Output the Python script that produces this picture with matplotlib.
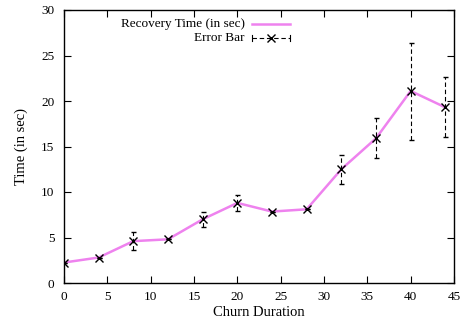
import matplotlib
matplotlib.use("Agg")
import matplotlib.pyplot as plt
from matplotlib.lines import Line2D

# data
churn = [0, 4, 8, 12, 16, 20, 24, 28, 32, 36, 40, 44]
recovery = [2.25, 2.8, 4.6, 4.8, 7.0, 8.8, 7.85, 8.1, 12.5, 15.9, 21.1, 19.3]
err_low = [2.25, 2.8, 3.6, 4.8, 6.15, 7.9, 7.85, 8.1, 10.9, 13.7, 15.7, 16.0]
err_high = [2.25, 2.8, 5.55, 4.8, 7.8, 9.7, 7.85, 8.1, 14.1, 18.15, 26.4, 22.6]

plt.rcParams['font.family'] = ['Liberation Serif', 'DejaVu Serif']

fig = plt.figure(figsize=(4.61, 3.22), dpi=100)
ax = fig.add_axes([64 / 461, 1 - 283 / 322, 390 / 461, 273 / 322])

ax.plot(churn, recovery, color='violet', lw=1.8, zorder=2)

yerr = [[r - lo for r, lo in zip(recovery, err_low)],
        [hi - r for r, hi in zip(recovery, err_high)]]
eb = ax.errorbar(churn, recovery, yerr=yerr, fmt='x', color='black', ms=6,
                 mew=1.0, ecolor='black', elinewidth=0.8, capsize=1.8,
                 capthick=0.8, zorder=3)
for c in eb[2]:
    c.set_linestyle((0, (4, 2.5)))

ax.set_xlim(0, 45)
ax.set_ylim(0, 30)
ax.set_xticks(range(0, 46, 5))
ax.set_yticks(range(0, 31, 5))
ax.tick_params(direction='in', top=True, right=True, length=5, labelsize=9.5)
ax.tick_params(axis='x', pad=6)
ax.tick_params(axis='y', pad=7)
ax.set_xlabel('Churn Duration', fontsize=10.5, labelpad=2)
ax.set_ylabel('Time (in sec)', fontsize=10.5, labelpad=9)
for s in ax.spines.values():
    s.set_linewidth(1.0)

# gnuplot style key: text right aligned, samples on the right
ax.text(0.464, 0.949, 'Recovery Time (in sec)', transform=ax.transAxes,
        ha='right', va='center', fontsize=9.5)
ax.text(0.464, 0.897, 'Error Bar', transform=ax.transAxes,
        ha='right', va='center', fontsize=9.5)
ax.add_line(Line2D([0.482, 0.579], [0.949, 0.949], transform=ax.transAxes,
                   color='violet', lw=1.8))
ax.add_line(Line2D([0.482, 0.579], [0.897, 0.897], transform=ax.transAxes,
                   color='black', lw=0.8, ls=(0, (4, 2.5))))
for xe in (0.482, 0.579):
    ax.add_line(Line2D([xe, xe], [0.885, 0.909], transform=ax.transAxes,
                       color='black', lw=0.8))
ax.add_line(Line2D([0.5305], [0.897], transform=ax.transAxes, marker='x',
                   color='black', ms=6, mew=1.0))

fig.savefig('out.png', dpi=100)
